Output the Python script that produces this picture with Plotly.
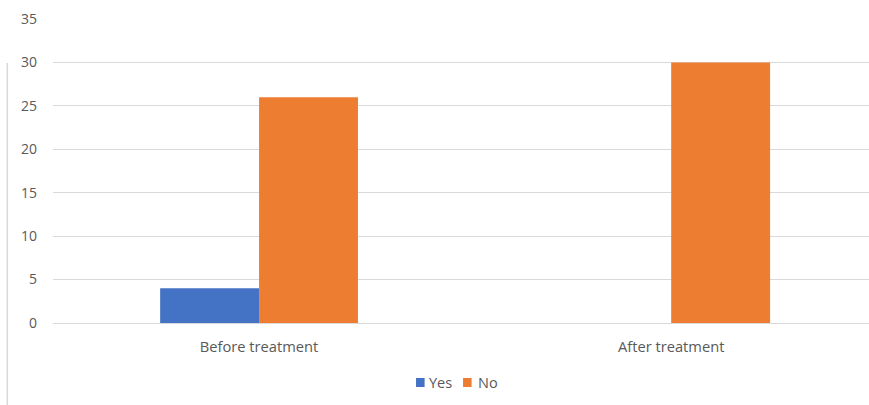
import plotly.graph_objects as go

categories = ["Before treatment", "After treatment"]
series_names = ["Yes", "No"]
yes_values = [4, 0]
no_values = [26, 30]
y_ticks = [0, 5, 10, 15, 20, 25, 30, 35]
colors = ["#4472C4", "#ED7D31"]

fig = go.Figure()
fig.add_trace(go.Bar(name=series_names[0], x=categories, y=yes_values, marker_color=colors[0], marker_line_width=0))
fig.add_trace(go.Bar(name=series_names[1], x=categories, y=no_values, marker_color=colors[1], marker_line_width=0))

fam = "Open Sans, Liberation Sans, sans-serif"
tick_font = dict(family=fam, size=14, color="#595959")
cat_font = dict(family=fam, size=14.7, color="#595959")

fig.update_layout(
    width=869, height=405,
    margin=dict(l=53, r=0, t=19, b=82),
    paper_bgcolor="white", plot_bgcolor="white",
    barmode="group", bargap=0.52, bargroupgap=0,
    font=tick_font,
    showlegend=False,
    xaxis=dict(type="category", range=[-0.5, 1.48], showgrid=False, zeroline=False,
               showline=False, ticks="", tickfont=cat_font, ticklabelstandoff=13),
    yaxis=dict(range=[0, 35], tickvals=y_ticks, showgrid=True, gridcolor="#d9d9d9",
               gridwidth=1, zeroline=True, zerolinecolor="#d9d9d9", zerolinewidth=1,
               showline=False, ticks="", tickfont=tick_font, ticklabelstandoff=15),
)

# compact legend (small squares next to the labels)
legend_sq_x = [0.4449, 0.5025]
legend_txt_x = [0.4583, 0.5184]
for name, c, sx, tx in zip(series_names, colors, legend_sq_x, legend_txt_x):
    fig.add_shape(type="rect", xref="paper", yref="paper",
                  x0=sx, x1=sx + 0.0105, y0=-0.2105, y1=-0.1809,
                  fillcolor=c, line=dict(width=0))
    fig.add_annotation(text=name, xref="paper", yref="paper", x=tx, y=-0.1957,
                       xanchor="left", yanchor="middle", showarrow=False,
                       font=dict(family=fam, size=14.5, color="#595959"))

fig.add_shape(type="line", xref="paper", yref="paper",
              x0=-0.056, x1=-0.056, y0=0.855, y1=-0.3, line=dict(color="#d9d9d9", width=1.5))
fig.write_html("out.html")
